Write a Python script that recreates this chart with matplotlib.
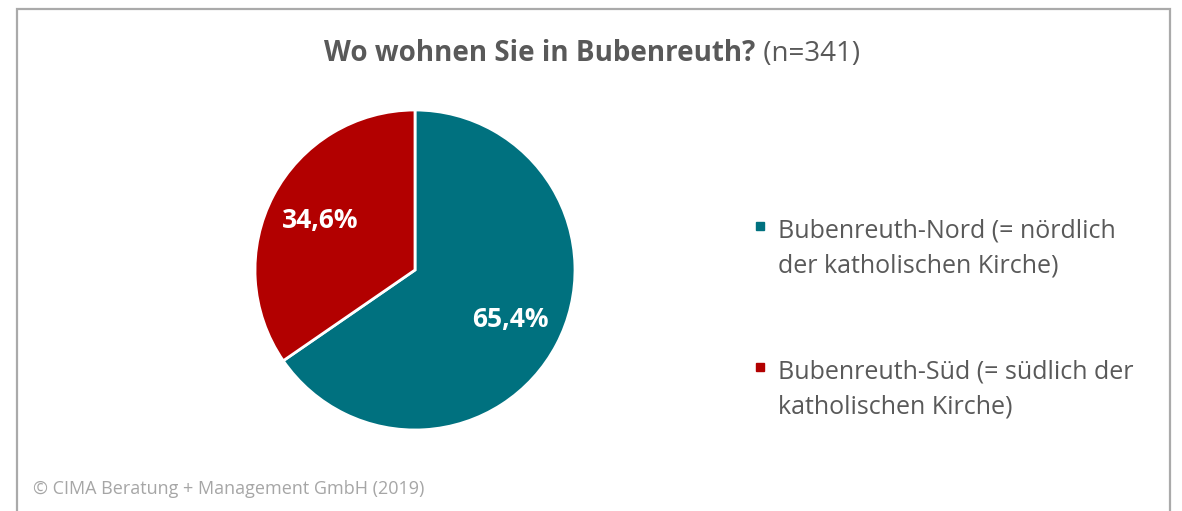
import matplotlib.pyplot as plt
from matplotlib.patches import Rectangle

plt.rcParams['font.family'] = ['Open Sans', 'DejaVu Sans']

# data
labels = ["Bubenreuth-Nord (= nördlich\nder katholischen Kirche)",
          "Bubenreuth-Süd (= südlich der\nkatholischen Kirche)"]
values = [65.4, 34.6]
colors = ["#00717F", "#B20000"]
title_bold = "Wo wohnen Sie in Bubenreuth?"
title_rest = " (n=341)"
source = "© CIMA Beratung + Management GmbH (2019)"

W, H = 1182, 511
fig = plt.figure(figsize=(W / 100, H / 100), dpi=100)

# outer frame (bottom runs off the picture)
fig.add_artist(Rectangle((17 / W, -0.05), (1170 - 17) / W, 1.05 - 9 / H,
                         transform=fig.transFigure, fill=False,
                         edgecolor="#AAAAAA", linewidth=1.6))

# pie
cx, cy, r = 415, 270, 160
ax = fig.add_axes([(cx - r) / W, (H - cy - r) / H, 2 * r / W, 2 * r / H])
wedges, texts, autotexts = ax.pie(
    values, colors=colors, startangle=90, counterclock=False,
    autopct=lambda p: f"{p:.1f}%".replace(".", ","), pctdistance=0.67,
    wedgeprops=dict(edgecolor="white", linewidth=2),
    textprops=dict(color="white", fontsize=19, fontweight="bold"))
ax.set_xlim(-1, 1)
ax.set_ylim(-1, 1)
ax.axis("off")

# title: bold part + regular part
t1 = fig.text(0, 0, title_bold, fontsize=20, fontweight="bold", color="#595959")
fig.canvas.draw()
bb1 = t1.get_window_extent()
t2 = fig.text(0, 0, title_rest, fontsize=20, color="#595959")
bb2 = t2.get_window_extent()
total = bb1.width + bb2.width
x0 = (592 - total / 2) / W
t1.set_position((x0, (H - 61) / H))
t2.set_position((x0 + bb1.width / W, (H - 61) / H))

# legend drawn by hand, one text per line
marker_y = [226, 367]
first_base = [237, 378]
for lab, col, my, by in zip(labels, colors, marker_y, first_base):
    fig.add_artist(Rectangle((756 / W, (H - my - 4) / H), 8 / W, 8 / H,
                             transform=fig.transFigure, color=col))
    for i, line in enumerate(lab.split("\n")):
        fig.text(778 / W, (H - by - 35 * i) / H, line, fontsize=18,
                 color="#595959", va="baseline", ha="left")

fig.text(33 / W, (H - 494) / H, source, fontsize=13, color="#A6A6A6",
         va="baseline", ha="left")

fig.savefig("out.png", dpi=100)
